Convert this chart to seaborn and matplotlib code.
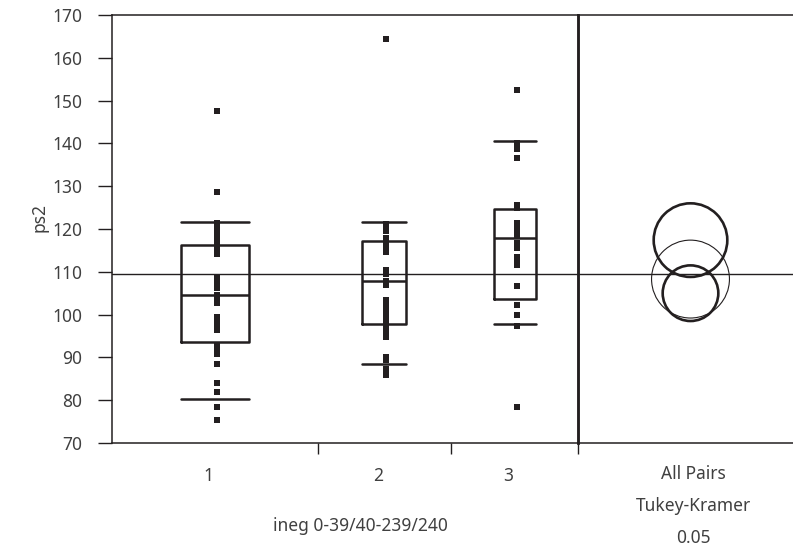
import numpy as np
import pandas as pd
import matplotlib
matplotlib.use("Agg")
import matplotlib.pyplot as plt
import matplotlib.transforms as mtransforms
import seaborn as sns
from matplotlib.patches import Circle

# ---------------- data ----------------
groups = ["1", "2", "3"]
ps2_g1 = [147.5, 128.6, 121.3, 120.5, 119.4, 118.2, 117.0, 116.0, 115.0, 114.2,
          108.9, 108.0, 107.0, 106.1, 104.6, 103.6, 102.8, 99.5, 98.5, 97.5,
          96.5, 92.8, 91.5, 90.8, 88.5, 84.0, 82.0, 78.3, 75.3]
ps2_g2 = [164.5, 121.2, 120.5, 119.6, 118.0, 116.5, 115.0, 114.6, 110.5, 109.5,
          107.9, 106.8, 103.5, 102.5, 101.5, 100.5, 99.3, 98.0, 96.8, 95.8,
          94.7, 90.2, 89.3, 87.4, 86.5, 85.8]
ps2_g3 = [152.4, 140.2, 139.6, 138.6, 136.5, 125.5, 125.0, 121.5, 120.5, 119.5,
          118.4, 116.7, 115.5, 113.5, 112.5, 111.6, 106.7, 102.2, 99.9, 97.3, 78.5]

# quantile boxes (10th, 25th, 50th, 75th, 90th percentiles)
p10 = [80.3, 88.4, 97.8]
q1 = [93.5, 97.8, 103.6]
med = [104.6, 107.9, 117.8]
q3 = [116.3, 117.3, 124.7]
p90 = [121.7, 121.7, 140.6]

grand_mean = 109.5
circle_center = [105.0, 108.3, 117.4]
circle_radius = [6.5, 9.1, 8.6]
circle_bold = [True, False, True]

y_ticks = [70, 80, 90, 100, 110, 120, 130, 140, 150, 160, 170]
y_label = "ps2"
x_label = "ineg 0-39/40-239/240"
compare_label = ["All Pairs", "Tukey-Kramer", "0.05"]

# ---------------- layout / style ----------------
W, H = 793, 548
L, DIV, TOP, BOT = 111.7, 578.3, 15.0, 443.0
group_width = [205.8, 133.5, 127.3]      # pixel widths of the group slots
box_frac = 0.33
pt_offset = 2.0
label_shift_px = -6
ink = "#231f20"
txt = "#404040"
fs = 12.5

sns.set_theme(style="white")
plt.rcParams["font.family"] = ["Noto Sans", "DejaVu Sans"]

fig = plt.figure(figsize=(W / 100, H / 100), dpi=100)
ax = fig.add_axes([L / W, 1 - BOT / H, (DIV - L) / W, (BOT - TOP) / H])
ax2 = fig.add_axes([DIV / W, 1 - BOT / H, (W - DIV) / W, (BOT - TOP) / H], sharey=ax)
ax2.set_facecolor("none")

edges = np.concatenate([[0], np.cumsum(group_width)])
centers = (edges[:-1] + edges[1:]) / 2
box_w = [g * box_frac for g in group_width]

rows = []
for gi, vals in enumerate([ps2_g1, ps2_g2, ps2_g3]):
    for v in vals:
        rows.append({"group": groups[gi], "ps2": v})
df = pd.DataFrame(rows)
df["x"] = df["group"].map(dict(zip(groups, centers + pt_offset)))

sns.scatterplot(data=df, x="x", y="ps2", marker="s", s=14, color=ink,
                linewidth=0, ax=ax, legend=False, zorder=3)

stats = [dict(whislo=p10[i], q1=q1[i], med=med[i], q3=q3[i], whishi=p90[i], fliers=[])
         for i in range(3)]
ax.bxp(stats, positions=centers, widths=box_w, capwidths=box_w, showfliers=False,
       manage_ticks=False,
       boxprops=dict(color=ink, lw=1.8),
       medianprops=dict(color=ink, lw=1.8),
       whiskerprops=dict(color=ink, lw=0, linestyle="none"),
       capprops=dict(color=ink, lw=1.8))

ax.axhline(grand_mean, color=ink, lw=1.0, zorder=2)
ax2.axhline(grand_mean, color=ink, lw=1.0, zorder=2)

ax.set_xlim(0, DIV - L)
ax.set_ylim(70, 170)
ax.set_yticks(y_ticks)
ax.set_yticklabels([str(t) for t in y_ticks])
ax.tick_params(axis="y", direction="out", length=10, width=1.0, color=ink,
               pad=11, labelsize=fs, labelcolor=txt, left=True)
ax.set_xticks(edges[1:])
ax.set_xticklabels([])
ax.tick_params(axis="x", which="major", direction="out", length=8, width=1.0,
               color=ink, bottom=True)
ax.set_xticks(centers, minor=True)
ax.set_xticklabels(groups, minor=True)
ax.tick_params(axis="x", which="minor", length=0, pad=17, labelsize=fs,
               labelcolor=txt, bottom=True)
shift = mtransforms.ScaledTranslation(label_shift_px / 100, 0, fig.dpi_scale_trans)
for lab in ax.get_xticklabels(minor=True):
    lab.set_transform(lab.get_transform() + shift)
ax.set_xlabel("")
ax.set_ylabel("")
for s in ["left", "top", "bottom"]:
    ax.spines[s].set_color(ink)
    ax.spines[s].set_linewidth(1.1)
ax.spines["right"].set_color(ink)
ax.spines["right"].set_linewidth(1.8)

# comparison circles panel: equal pixel scaling in x and y
px_per_unit = (BOT - TOP) / 100.0
ax2.set_xlim(0, (W - DIV) / px_per_unit)
cx = (690.5 - DIV) / px_per_unit
for c, r, b in zip(circle_center, circle_radius, circle_bold):
    ax2.add_patch(Circle((cx, c), r, fill=False, edgecolor=ink,
                         lw=1.9 if b else 0.8, zorder=3))
ax2.tick_params(left=False, labelleft=False, bottom=False, labelbottom=False)
ax2.spines["left"].set_color(ink)
ax2.spines["left"].set_linewidth(1.8)
ax2.spines["right"].set_visible(False)
for s in ["top", "bottom"]:
    ax2.spines[s].set_color(ink)
    ax2.spines[s].set_linewidth(1.1)
ax2.set_xlabel("")
ax2.set_ylabel("")

fig.text(39 / W, 1 - 217 / H, y_label, rotation=90, ha="center", va="center",
         fontsize=fs, color=txt)
fig.text(360 / W, 1 - 526 / H, x_label, ha="center", va="center",
         fontsize=fs, color=txt)
for lbl, yy in zip(compare_label, [474, 506, 538]):
    fig.text(693 / W, 1 - yy / H, lbl, ha="center", va="center", fontsize=fs, color=txt)

fig.savefig("out.png", dpi=100)
